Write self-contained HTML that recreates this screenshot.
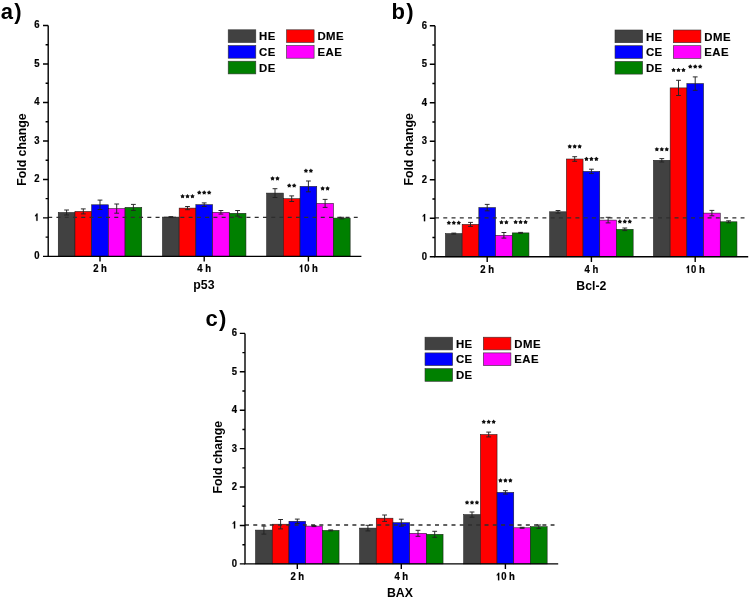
<!DOCTYPE html>
<html><head><meta charset="utf-8"><style>
html,body{margin:0;padding:0;background:#fff;}
body{width:749px;height:599px;overflow:hidden;}
svg{display:block;will-change:transform;filter:blur(0.3px);}
text{font-family:"Liberation Sans",sans-serif;font-weight:bold;fill:#000;}
.tl{font-size:9.5px;stroke:#000;stroke-width:0.2px;}
.ti{font-size:12.3px;}
.lg{font-size:11.4px;letter-spacing:0.5px;stroke:#000;stroke-width:0.15px;}
.pl{font-size:22px;letter-spacing:1.2px;}
</style></head><body>
<svg width="749" height="599" viewBox="0 0 749 599">
<rect width="749" height="599" fill="#fff"/>
<rect x="58.25" y="212.5" width="16.7" height="43.9" fill="#414141" stroke="#1a1a1a" stroke-width="0.55"/>
<rect x="74.95" y="211.4" width="16.7" height="45" fill="#ff0000" stroke="#1a1a1a" stroke-width="0.55"/>
<rect x="91.65" y="204.8" width="16.7" height="51.6" fill="#0000ff" stroke="#1a1a1a" stroke-width="0.55"/>
<rect x="108.35" y="208.6" width="16.7" height="47.8" fill="#ff00ff" stroke="#1a1a1a" stroke-width="0.55"/>
<rect x="125.05" y="207.4" width="16.7" height="49" fill="#008000" stroke="#1a1a1a" stroke-width="0.55"/>
<rect x="162.45" y="217.1" width="16.7" height="39.3" fill="#414141" stroke="#1a1a1a" stroke-width="0.55"/>
<rect x="179.15" y="208.1" width="16.7" height="48.3" fill="#ff0000" stroke="#1a1a1a" stroke-width="0.55"/>
<rect x="195.85" y="204.7" width="16.7" height="51.7" fill="#0000ff" stroke="#1a1a1a" stroke-width="0.55"/>
<rect x="212.55" y="212.3" width="16.7" height="44.1" fill="#ff00ff" stroke="#1a1a1a" stroke-width="0.55"/>
<rect x="229.25" y="213.3" width="16.7" height="43.1" fill="#008000" stroke="#1a1a1a" stroke-width="0.55"/>
<rect x="266.65" y="193.1" width="16.7" height="63.3" fill="#414141" stroke="#1a1a1a" stroke-width="0.55"/>
<rect x="283.35" y="198.7" width="16.7" height="57.7" fill="#ff0000" stroke="#1a1a1a" stroke-width="0.55"/>
<rect x="300.05" y="186.4" width="16.7" height="70" fill="#0000ff" stroke="#1a1a1a" stroke-width="0.55"/>
<rect x="316.75" y="203.4" width="16.7" height="53" fill="#ff00ff" stroke="#1a1a1a" stroke-width="0.55"/>
<rect x="333.45" y="218.1" width="16.7" height="38.3" fill="#008000" stroke="#1a1a1a" stroke-width="0.55"/>
<line x1="48.2" y1="217.42" x2="357.7" y2="217.42" stroke="#2e2e2e" stroke-width="1.3" stroke-dasharray="4.0 4.26"/>
<path d="M66.6 210V215M64.2 210h4.8M64.2 215h4.8" stroke="#222" stroke-width="0.95" fill="none"/>
<path d="M83.3 208.9V213.9M80.9 208.9h4.8M80.9 213.9h4.8" stroke="#222" stroke-width="0.95" fill="none"/>
<path d="M100 200.1V209.5M97.6 200.1h4.8M97.6 209.5h4.8" stroke="#222" stroke-width="0.95" fill="none"/>
<path d="M116.7 204V213.2M114.3 204h4.8M114.3 213.2h4.8" stroke="#222" stroke-width="0.95" fill="none"/>
<path d="M133.4 204.4V210.4M131 204.4h4.8M131 210.4h4.8" stroke="#222" stroke-width="0.95" fill="none"/>
<path d="M170.8 216.6V217.6M168.4 216.6h4.8M168.4 217.6h4.8" stroke="#222" stroke-width="0.95" fill="none"/>
<path d="M187.5 206.5V209.7M185.1 206.5h4.8M185.1 209.7h4.8" stroke="#222" stroke-width="0.95" fill="none"/>
<path d="M204.2 202.9V206.5M201.8 202.9h4.8M201.8 206.5h4.8" stroke="#222" stroke-width="0.95" fill="none"/>
<path d="M220.9 210.5V214.1M218.5 210.5h4.8M218.5 214.1h4.8" stroke="#222" stroke-width="0.95" fill="none"/>
<path d="M237.6 210.5V216.1M235.2 210.5h4.8M235.2 216.1h4.8" stroke="#222" stroke-width="0.95" fill="none"/>
<path d="M275 188.7V197.5M272.6 188.7h4.8M272.6 197.5h4.8" stroke="#222" stroke-width="0.95" fill="none"/>
<path d="M291.7 195.9V201.5M289.3 195.9h4.8M289.3 201.5h4.8" stroke="#222" stroke-width="0.95" fill="none"/>
<path d="M308.4 181V191.8M306 181h4.8M306 191.8h4.8" stroke="#222" stroke-width="0.95" fill="none"/>
<path d="M325.1 199.4V207.4M322.7 199.4h4.8M322.7 207.4h4.8" stroke="#222" stroke-width="0.95" fill="none"/>
<path d="M341.8 217.3V218.9M339.4 217.3h4.8M339.4 218.9h4.8" stroke="#222" stroke-width="0.95" fill="none"/>
<g fill="#111"><polygon points="182.55,193.95 183.37,195.17 184.78,195.57 183.88,196.73 183.93,198.2 182.55,197.7 181.17,198.2 181.22,196.73 180.32,195.57 181.73,195.17"/><polygon points="187.5,193.95 188.32,195.17 189.73,195.57 188.83,196.73 188.88,198.2 187.5,197.7 186.12,198.2 186.17,196.73 185.27,195.57 186.68,195.17"/><polygon points="192.45,193.95 193.27,195.17 194.68,195.57 193.78,196.73 193.83,198.2 192.45,197.7 191.07,198.2 191.12,196.73 190.22,195.57 191.63,195.17"/><polygon points="199.25,190.35 200.07,191.57 201.48,191.97 200.58,193.13 200.63,194.6 199.25,194.1 197.87,194.6 197.92,193.13 197.02,191.97 198.43,191.57"/><polygon points="204.2,190.35 205.02,191.57 206.43,191.97 205.53,193.13 205.58,194.6 204.2,194.1 202.82,194.6 202.87,193.13 201.97,191.97 203.38,191.57"/><polygon points="209.15,190.35 209.97,191.57 211.38,191.97 210.48,193.13 210.53,194.6 209.15,194.1 207.77,194.6 207.82,193.13 206.92,191.97 208.33,191.57"/><polygon points="272.52,176.15 273.35,177.37 274.76,177.77 273.86,178.93 273.91,180.4 272.52,179.9 271.14,180.4 271.19,178.93 270.29,177.77 271.7,177.37"/><polygon points="277.48,176.15 278.3,177.37 279.71,177.77 278.81,178.93 278.86,180.4 277.48,179.9 276.09,180.4 276.14,178.93 275.24,177.77 276.65,177.37"/><polygon points="289.22,183.35 290.05,184.57 291.46,184.97 290.56,186.13 290.61,187.6 289.22,187.1 287.84,187.6 287.89,186.13 286.99,184.97 288.4,184.57"/><polygon points="294.18,183.35 295,184.57 296.41,184.97 295.51,186.13 295.56,187.6 294.18,187.1 292.79,187.6 292.84,186.13 291.94,184.97 293.35,184.57"/><polygon points="305.92,168.45 306.75,169.67 308.16,170.07 307.26,171.23 307.31,172.7 305.92,172.2 304.54,172.7 304.59,171.23 303.69,170.07 305.1,169.67"/><polygon points="310.88,168.45 311.7,169.67 313.11,170.07 312.21,171.23 312.26,172.7 310.88,172.2 309.49,172.7 309.54,171.23 308.64,170.07 310.05,169.67"/><polygon points="322.62,186.15 323.45,187.37 324.86,187.77 323.96,188.93 324.01,190.4 322.62,189.9 321.24,190.4 321.29,188.93 320.39,187.77 321.8,187.37"/><polygon points="327.57,186.15 328.4,187.37 329.81,187.77 328.91,188.93 328.96,190.4 327.57,189.9 326.19,190.4 326.24,188.93 325.34,187.77 326.75,187.37"/></g>
<path d="M48.2 25.5V256.4H361.4" stroke="#000" stroke-width="1.4" fill="none"/>
<path d="M43 256.4H48.2M45.6 237.16H48.2M43 217.92H48.2M45.6 198.67H48.2M43 179.43H48.2M45.6 160.19H48.2M43 140.95H48.2M45.6 121.71H48.2M43 102.47H48.2M45.6 83.22H48.2M43 63.98H48.2M45.6 44.74H48.2M43 25.5H48.2M100 256.4V261.6M204.2 256.4V261.6M308.4 256.4V261.6" stroke="#000" stroke-width="1.4" fill="none"/>
<text transform="translate(39.5 259.3) scale(1 1.06)" class="tl" text-anchor="end">0</text>
<g transform="translate(39.5 220.82) scale(1 1.06)"><path transform="translate(-5.28 0) scale(0.004639 -0.004639)" d="M720 0H450V1030L190 880V1110Q420 1240 510 1466H720Z" fill="#000" stroke="#000" stroke-width="43.12"/></g>
<text transform="translate(39.5 182.33) scale(1 1.06)" class="tl" text-anchor="end">2</text>
<text transform="translate(39.5 143.85) scale(1 1.06)" class="tl" text-anchor="end">3</text>
<text transform="translate(39.5 105.37) scale(1 1.06)" class="tl" text-anchor="end">4</text>
<text transform="translate(39.5 66.88) scale(1 1.06)" class="tl" text-anchor="end">5</text>
<text transform="translate(39.5 28.4) scale(1 1.06)" class="tl" text-anchor="end">6</text>
<text transform="translate(100 272.1) scale(1 1.1)" class="tl" text-anchor="middle">2 h</text>
<text transform="translate(204.2 272.1) scale(1 1.1)" class="tl" text-anchor="middle">4 h</text>
<g transform="translate(308.4 272.1) scale(1 1.1)"><path transform="translate(-9.5 0) scale(0.004639 -0.004639)" d="M720 0H450V1030L190 880V1110Q420 1240 510 1466H720Z" fill="#000" stroke="#000" stroke-width="43.12"/><text x="-4.22" class="tl">0 h</text></g>
<text x="203.9" y="289.4" class="ti" text-anchor="middle">p53</text>
<text transform="translate(25.6 149.6) rotate(-90)" class="ti" text-anchor="middle">Fold change</text>
<text x="0.8" y="18.6" class="pl">a)</text>
<rect x="228.2" y="29.8" width="27.6" height="12.7" fill="#414141" stroke="#333" stroke-width="0.6"/>
<text x="259.1" y="40.3" class="lg">HE</text>
<rect x="286.5" y="29.8" width="27.6" height="12.7" fill="#ff0000" stroke="#333" stroke-width="0.6"/>
<text x="317.4" y="40.3" class="lg">DME</text>
<rect x="228.2" y="45.5" width="27.6" height="12.7" fill="#0000ff" stroke="#333" stroke-width="0.6"/>
<text x="259.1" y="56" class="lg">CE</text>
<rect x="286.5" y="45.5" width="27.6" height="12.7" fill="#ff00ff" stroke="#333" stroke-width="0.6"/>
<text x="317.4" y="56" class="lg">EAE</text>
<rect x="228.2" y="61.2" width="27.6" height="12.7" fill="#008000" stroke="#333" stroke-width="0.6"/>
<text x="259.1" y="71.7" class="lg">DE</text>
<rect x="445.45" y="233.6" width="16.7" height="23.2" fill="#414141" stroke="#1a1a1a" stroke-width="0.55"/>
<rect x="462.15" y="224.4" width="16.7" height="32.4" fill="#ff0000" stroke="#1a1a1a" stroke-width="0.55"/>
<rect x="478.85" y="207.6" width="16.7" height="49.2" fill="#0000ff" stroke="#1a1a1a" stroke-width="0.55"/>
<rect x="495.55" y="235.3" width="16.7" height="21.5" fill="#ff00ff" stroke="#1a1a1a" stroke-width="0.55"/>
<rect x="512.25" y="232.9" width="16.7" height="23.9" fill="#008000" stroke="#1a1a1a" stroke-width="0.55"/>
<rect x="549.65" y="211.8" width="16.7" height="45" fill="#414141" stroke="#1a1a1a" stroke-width="0.55"/>
<rect x="566.35" y="159" width="16.7" height="97.8" fill="#ff0000" stroke="#1a1a1a" stroke-width="0.55"/>
<rect x="583.05" y="171.4" width="16.7" height="85.4" fill="#0000ff" stroke="#1a1a1a" stroke-width="0.55"/>
<rect x="599.75" y="220.1" width="16.7" height="36.7" fill="#ff00ff" stroke="#1a1a1a" stroke-width="0.55"/>
<rect x="616.45" y="229.3" width="16.7" height="27.5" fill="#008000" stroke="#1a1a1a" stroke-width="0.55"/>
<rect x="653.45" y="160.3" width="16.7" height="96.5" fill="#414141" stroke="#1a1a1a" stroke-width="0.55"/>
<rect x="670.15" y="87.9" width="16.7" height="168.9" fill="#ff0000" stroke="#1a1a1a" stroke-width="0.55"/>
<rect x="686.85" y="83.6" width="16.7" height="173.2" fill="#0000ff" stroke="#1a1a1a" stroke-width="0.55"/>
<rect x="703.55" y="213.1" width="16.7" height="43.7" fill="#ff00ff" stroke="#1a1a1a" stroke-width="0.55"/>
<rect x="720.25" y="221.8" width="16.7" height="35" fill="#008000" stroke="#1a1a1a" stroke-width="0.55"/>
<line x1="435" y1="217.78" x2="744.5" y2="217.78" stroke="#2e2e2e" stroke-width="1.3" stroke-dasharray="4.0 4.26"/>
<path d="M453.8 233.1V234.1M451.4 233.1h4.8M451.4 234.1h4.8" stroke="#222" stroke-width="0.95" fill="none"/>
<path d="M470.5 222.4V226.4M468.1 222.4h4.8M468.1 226.4h4.8" stroke="#222" stroke-width="0.95" fill="none"/>
<path d="M487.2 204.4V210.8M484.8 204.4h4.8M484.8 210.8h4.8" stroke="#222" stroke-width="0.95" fill="none"/>
<path d="M503.9 232.5V238.1M501.5 232.5h4.8M501.5 238.1h4.8" stroke="#222" stroke-width="0.95" fill="none"/>
<path d="M520.6 232.4V233.4M518.2 232.4h4.8M518.2 233.4h4.8" stroke="#222" stroke-width="0.95" fill="none"/>
<path d="M558 210.5V213.1M555.6 210.5h4.8M555.6 213.1h4.8" stroke="#222" stroke-width="0.95" fill="none"/>
<path d="M574.7 156.7V161.3M572.3 156.7h4.8M572.3 161.3h4.8" stroke="#222" stroke-width="0.95" fill="none"/>
<path d="M591.4 169.2V173.6M589 169.2h4.8M589 173.6h4.8" stroke="#222" stroke-width="0.95" fill="none"/>
<path d="M608.1 217.3V222.9M605.7 217.3h4.8M605.7 222.9h4.8" stroke="#222" stroke-width="0.95" fill="none"/>
<path d="M624.8 228V230.6M622.4 228h4.8M622.4 230.6h4.8" stroke="#222" stroke-width="0.95" fill="none"/>
<path d="M661.8 158.6V162M659.4 158.6h4.8M659.4 162h4.8" stroke="#222" stroke-width="0.95" fill="none"/>
<path d="M678.5 80.3V95.5M676.1 80.3h4.8M676.1 95.5h4.8" stroke="#222" stroke-width="0.95" fill="none"/>
<path d="M695.2 76.9V90.3M692.8 76.9h4.8M692.8 90.3h4.8" stroke="#222" stroke-width="0.95" fill="none"/>
<path d="M711.9 210.4V215.8M709.5 210.4h4.8M709.5 215.8h4.8" stroke="#222" stroke-width="0.95" fill="none"/>
<path d="M728.6 220.8V222.8M726.2 220.8h4.8M726.2 222.8h4.8" stroke="#222" stroke-width="0.95" fill="none"/>
<g fill="#111"><polygon points="448.85,220.55 449.67,221.77 451.08,222.17 450.18,223.33 450.23,224.8 448.85,224.3 447.47,224.8 447.52,223.33 446.62,222.17 448.03,221.77"/><polygon points="453.8,220.55 454.62,221.77 456.03,222.17 455.13,223.33 455.18,224.8 453.8,224.3 452.42,224.8 452.47,223.33 451.57,222.17 452.98,221.77"/><polygon points="458.75,220.55 459.57,221.77 460.98,222.17 460.08,223.33 460.13,224.8 458.75,224.3 457.37,224.8 457.42,223.33 456.52,222.17 457.93,221.77"/><polygon points="501.42,219.95 502.25,221.17 503.66,221.57 502.76,222.73 502.81,224.2 501.42,223.7 500.04,224.2 500.09,222.73 499.19,221.57 500.6,221.17"/><polygon points="506.38,219.95 507.2,221.17 508.61,221.57 507.71,222.73 507.76,224.2 506.38,223.7 504.99,224.2 505.04,222.73 504.14,221.57 505.55,221.17"/><polygon points="515.65,219.85 516.47,221.07 517.88,221.47 516.98,222.63 517.03,224.1 515.65,223.6 514.27,224.1 514.32,222.63 513.42,221.47 514.83,221.07"/><polygon points="520.6,219.85 521.42,221.07 522.83,221.47 521.93,222.63 521.98,224.1 520.6,223.6 519.22,224.1 519.27,222.63 518.37,221.47 519.78,221.07"/><polygon points="525.55,219.85 526.37,221.07 527.78,221.47 526.88,222.63 526.93,224.1 525.55,223.6 524.17,224.1 524.22,222.63 523.32,221.47 524.73,221.07"/><polygon points="569.75,144.15 570.57,145.37 571.98,145.77 571.08,146.93 571.13,148.4 569.75,147.9 568.37,148.4 568.42,146.93 567.52,145.77 568.93,145.37"/><polygon points="574.7,144.15 575.52,145.37 576.93,145.77 576.03,146.93 576.08,148.4 574.7,147.9 573.32,148.4 573.37,146.93 572.47,145.77 573.88,145.37"/><polygon points="579.65,144.15 580.47,145.37 581.88,145.77 580.98,146.93 581.03,148.4 579.65,147.9 578.27,148.4 578.32,146.93 577.42,145.77 578.83,145.37"/><polygon points="586.45,156.65 587.27,157.87 588.68,158.27 587.78,159.43 587.83,160.9 586.45,160.4 585.07,160.9 585.12,159.43 584.22,158.27 585.63,157.87"/><polygon points="591.4,156.65 592.22,157.87 593.63,158.27 592.73,159.43 592.78,160.9 591.4,160.4 590.02,160.9 590.07,159.43 589.17,158.27 590.58,157.87"/><polygon points="596.35,156.65 597.17,157.87 598.58,158.27 597.68,159.43 597.73,160.9 596.35,160.4 594.97,160.9 595.02,159.43 594.12,158.27 595.53,157.87"/><polygon points="619.85,219.35 620.67,220.57 622.08,220.97 621.18,222.13 621.23,223.6 619.85,223.1 618.47,223.6 618.52,222.13 617.62,220.97 619.03,220.57"/><polygon points="624.8,219.35 625.62,220.57 627.03,220.97 626.13,222.13 626.18,223.6 624.8,223.1 623.42,223.6 623.47,222.13 622.57,220.97 623.98,220.57"/><polygon points="629.75,219.35 630.57,220.57 631.98,220.97 631.08,222.13 631.13,223.6 629.75,223.1 628.37,223.6 628.42,222.13 627.52,220.97 628.93,220.57"/><polygon points="656.85,146.95 657.67,148.17 659.08,148.57 658.18,149.73 658.23,151.2 656.85,150.7 655.47,151.2 655.52,149.73 654.62,148.57 656.03,148.17"/><polygon points="661.8,146.95 662.62,148.17 664.03,148.57 663.13,149.73 663.18,151.2 661.8,150.7 660.42,151.2 660.47,149.73 659.57,148.57 660.98,148.17"/><polygon points="666.75,146.95 667.57,148.17 668.98,148.57 668.08,149.73 668.13,151.2 666.75,150.7 665.37,151.2 665.42,149.73 664.52,148.57 665.93,148.17"/><polygon points="673.55,67.75 674.37,68.97 675.78,69.37 674.88,70.53 674.93,72 673.55,71.5 672.17,72 672.22,70.53 671.32,69.37 672.73,68.97"/><polygon points="678.5,67.75 679.32,68.97 680.73,69.37 679.83,70.53 679.88,72 678.5,71.5 677.12,72 677.17,70.53 676.27,69.37 677.68,68.97"/><polygon points="683.45,67.75 684.27,68.97 685.68,69.37 684.78,70.53 684.83,72 683.45,71.5 682.07,72 682.12,70.53 681.22,69.37 682.63,68.97"/><polygon points="690.25,64.35 691.07,65.57 692.48,65.97 691.58,67.13 691.63,68.6 690.25,68.1 688.87,68.6 688.92,67.13 688.02,65.97 689.43,65.57"/><polygon points="695.2,64.35 696.02,65.57 697.43,65.97 696.53,67.13 696.58,68.6 695.2,68.1 693.82,68.6 693.87,67.13 692.97,65.97 694.38,65.57"/><polygon points="700.15,64.35 700.97,65.57 702.38,65.97 701.48,67.13 701.53,68.6 700.15,68.1 698.77,68.6 698.82,67.13 697.92,65.97 699.33,65.57"/></g>
<path d="M435 25.7V256.8H748.2" stroke="#000" stroke-width="1.4" fill="none"/>
<path d="M429.8 256.8H435M432.4 237.54H435M429.8 218.28H435M432.4 199.03H435M429.8 179.77H435M432.4 160.51H435M429.8 141.25H435M432.4 121.99H435M429.8 102.73H435M432.4 83.47H435M429.8 64.22H435M432.4 44.96H435M429.8 25.7H435M487.2 256.8V262M591.4 256.8V262M695.2 256.8V262" stroke="#000" stroke-width="1.4" fill="none"/>
<text transform="translate(427.1 259.7) scale(1 1.06)" class="tl" text-anchor="end">0</text>
<g transform="translate(427.1 221.18) scale(1 1.06)"><path transform="translate(-5.28 0) scale(0.004639 -0.004639)" d="M720 0H450V1030L190 880V1110Q420 1240 510 1466H720Z" fill="#000" stroke="#000" stroke-width="43.12"/></g>
<text transform="translate(427.1 182.67) scale(1 1.06)" class="tl" text-anchor="end">2</text>
<text transform="translate(427.1 144.15) scale(1 1.06)" class="tl" text-anchor="end">3</text>
<text transform="translate(427.1 105.63) scale(1 1.06)" class="tl" text-anchor="end">4</text>
<text transform="translate(427.1 67.12) scale(1 1.06)" class="tl" text-anchor="end">5</text>
<text transform="translate(427.1 28.6) scale(1 1.06)" class="tl" text-anchor="end">6</text>
<text transform="translate(487.2 273) scale(1 1.1)" class="tl" text-anchor="middle">2 h</text>
<text transform="translate(591.4 273) scale(1 1.1)" class="tl" text-anchor="middle">4 h</text>
<g transform="translate(695.2 273) scale(1 1.1)"><path transform="translate(-9.5 0) scale(0.004639 -0.004639)" d="M720 0H450V1030L190 880V1110Q420 1240 510 1466H720Z" fill="#000" stroke="#000" stroke-width="43.12"/><text x="-4.22" class="tl">0 h</text></g>
<text x="591.4" y="289.8" class="ti" text-anchor="middle">Bcl-2</text>
<text transform="translate(412.6 149.4) rotate(-90)" class="ti" text-anchor="middle">Fold change</text>
<text x="391.5" y="18.5" class="pl">b)</text>
<rect x="615" y="30" width="27.6" height="12.7" fill="#414141" stroke="#333" stroke-width="0.6"/>
<text x="645.9" y="40.5" class="lg">HE</text>
<rect x="673.3" y="30" width="27.6" height="12.7" fill="#ff0000" stroke="#333" stroke-width="0.6"/>
<text x="704.2" y="40.5" class="lg">DME</text>
<rect x="615" y="45.7" width="27.6" height="12.7" fill="#0000ff" stroke="#333" stroke-width="0.6"/>
<text x="645.9" y="56.2" class="lg">CE</text>
<rect x="673.3" y="45.7" width="27.6" height="12.7" fill="#ff00ff" stroke="#333" stroke-width="0.6"/>
<text x="704.2" y="56.2" class="lg">EAE</text>
<rect x="615" y="61.4" width="27.6" height="12.7" fill="#008000" stroke="#333" stroke-width="0.6"/>
<text x="645.9" y="71.9" class="lg">DE</text>
<rect x="255.55" y="530.1" width="16.7" height="33.8" fill="#414141" stroke="#1a1a1a" stroke-width="0.55"/>
<rect x="272.25" y="524.2" width="16.7" height="39.7" fill="#ff0000" stroke="#1a1a1a" stroke-width="0.55"/>
<rect x="288.95" y="521.3" width="16.7" height="42.6" fill="#0000ff" stroke="#1a1a1a" stroke-width="0.55"/>
<rect x="305.65" y="526.1" width="16.7" height="37.8" fill="#ff00ff" stroke="#1a1a1a" stroke-width="0.55"/>
<rect x="322.35" y="530.4" width="16.7" height="33.5" fill="#008000" stroke="#1a1a1a" stroke-width="0.55"/>
<rect x="359.55" y="528.1" width="16.7" height="35.8" fill="#414141" stroke="#1a1a1a" stroke-width="0.55"/>
<rect x="376.25" y="518.2" width="16.7" height="45.7" fill="#ff0000" stroke="#1a1a1a" stroke-width="0.55"/>
<rect x="392.95" y="522.7" width="16.7" height="41.2" fill="#0000ff" stroke="#1a1a1a" stroke-width="0.55"/>
<rect x="409.65" y="533.3" width="16.7" height="30.6" fill="#ff00ff" stroke="#1a1a1a" stroke-width="0.55"/>
<rect x="426.35" y="534.3" width="16.7" height="29.6" fill="#008000" stroke="#1a1a1a" stroke-width="0.55"/>
<rect x="463.65" y="514.6" width="16.7" height="49.3" fill="#414141" stroke="#1a1a1a" stroke-width="0.55"/>
<rect x="480.35" y="434.5" width="16.7" height="129.4" fill="#ff0000" stroke="#1a1a1a" stroke-width="0.55"/>
<rect x="497.05" y="492.4" width="16.7" height="71.5" fill="#0000ff" stroke="#1a1a1a" stroke-width="0.55"/>
<rect x="513.75" y="527.8" width="16.7" height="36.1" fill="#ff00ff" stroke="#1a1a1a" stroke-width="0.55"/>
<rect x="530.45" y="526.7" width="16.7" height="37.2" fill="#008000" stroke="#1a1a1a" stroke-width="0.55"/>
<line x1="245" y1="524.98" x2="554.5" y2="524.98" stroke="#2e2e2e" stroke-width="1.3" stroke-dasharray="4.0 4.26"/>
<path d="M263.9 526.1V534.1M261.5 526.1h4.8M261.5 534.1h4.8" stroke="#222" stroke-width="0.95" fill="none"/>
<path d="M280.6 519.5V528.9M278.2 519.5h4.8M278.2 528.9h4.8" stroke="#222" stroke-width="0.95" fill="none"/>
<path d="M297.3 519.1V523.5M294.9 519.1h4.8M294.9 523.5h4.8" stroke="#222" stroke-width="0.95" fill="none"/>
<path d="M314 525.6V526.6M311.6 525.6h4.8M311.6 526.6h4.8" stroke="#222" stroke-width="0.95" fill="none"/>
<path d="M330.7 529.9V530.9M328.3 529.9h4.8M328.3 530.9h4.8" stroke="#222" stroke-width="0.95" fill="none"/>
<path d="M367.9 525.3V530.9M365.5 525.3h4.8M365.5 530.9h4.8" stroke="#222" stroke-width="0.95" fill="none"/>
<path d="M384.6 515V521.4M382.2 515h4.8M382.2 521.4h4.8" stroke="#222" stroke-width="0.95" fill="none"/>
<path d="M401.3 519.2V526.2M398.9 519.2h4.8M398.9 526.2h4.8" stroke="#222" stroke-width="0.95" fill="none"/>
<path d="M418 530.3V536.3M415.6 530.3h4.8M415.6 536.3h4.8" stroke="#222" stroke-width="0.95" fill="none"/>
<path d="M434.7 531.3V537.3M432.3 531.3h4.8M432.3 537.3h4.8" stroke="#222" stroke-width="0.95" fill="none"/>
<path d="M472 512V517.2M469.6 512h4.8M469.6 517.2h4.8" stroke="#222" stroke-width="0.95" fill="none"/>
<path d="M488.7 432.1V436.9M486.3 432.1h4.8M486.3 436.9h4.8" stroke="#222" stroke-width="0.95" fill="none"/>
<path d="M505.4 490.7V494.1M503 490.7h4.8M503 494.1h4.8" stroke="#222" stroke-width="0.95" fill="none"/>
<path d="M522.1 527.3V528.3M519.7 527.3h4.8M519.7 528.3h4.8" stroke="#222" stroke-width="0.95" fill="none"/>
<path d="M538.8 525V528.4M536.4 525h4.8M536.4 528.4h4.8" stroke="#222" stroke-width="0.95" fill="none"/>
<g fill="#111"><polygon points="467.05,500.25 467.87,501.47 469.28,501.87 468.38,503.03 468.43,504.5 467.05,504 465.67,504.5 465.72,503.03 464.82,501.87 466.23,501.47"/><polygon points="472,500.25 472.82,501.47 474.23,501.87 473.33,503.03 473.38,504.5 472,504 470.62,504.5 470.67,503.03 469.77,501.87 471.18,501.47"/><polygon points="476.95,500.25 477.77,501.47 479.18,501.87 478.28,503.03 478.33,504.5 476.95,504 475.57,504.5 475.62,503.03 474.72,501.87 476.13,501.47"/><polygon points="483.75,419.55 484.57,420.77 485.98,421.17 485.08,422.33 485.13,423.8 483.75,423.3 482.37,423.8 482.42,422.33 481.52,421.17 482.93,420.77"/><polygon points="488.7,419.55 489.52,420.77 490.93,421.17 490.03,422.33 490.08,423.8 488.7,423.3 487.32,423.8 487.37,422.33 486.47,421.17 487.88,420.77"/><polygon points="493.65,419.55 494.47,420.77 495.88,421.17 494.98,422.33 495.03,423.8 493.65,423.3 492.27,423.8 492.32,422.33 491.42,421.17 492.83,420.77"/><polygon points="500.45,478.15 501.27,479.37 502.68,479.77 501.78,480.93 501.83,482.4 500.45,481.9 499.07,482.4 499.12,480.93 498.22,479.77 499.63,479.37"/><polygon points="505.4,478.15 506.22,479.37 507.63,479.77 506.73,480.93 506.78,482.4 505.4,481.9 504.02,482.4 504.07,480.93 503.17,479.77 504.58,479.37"/><polygon points="510.35,478.15 511.17,479.37 512.58,479.77 511.68,480.93 511.73,482.4 510.35,481.9 508.97,482.4 509.02,480.93 508.12,479.77 509.53,479.37"/></g>
<path d="M245 333.4V563.9H558.2" stroke="#000" stroke-width="1.4" fill="none"/>
<path d="M239.8 563.9H245M242.4 544.69H245M239.8 525.48H245M242.4 506.27H245M239.8 487.07H245M242.4 467.86H245M239.8 448.65H245M242.4 429.44H245M239.8 410.23H245M242.4 391.02H245M239.8 371.82H245M242.4 352.61H245M239.8 333.4H245M297.3 563.9V569.1M401.3 563.9V569.1M505.4 563.9V569.1" stroke="#000" stroke-width="1.4" fill="none"/>
<text transform="translate(237.1 566.8) scale(1 1.06)" class="tl" text-anchor="end">0</text>
<g transform="translate(237.1 528.38) scale(1 1.06)"><path transform="translate(-5.28 0) scale(0.004639 -0.004639)" d="M720 0H450V1030L190 880V1110Q420 1240 510 1466H720Z" fill="#000" stroke="#000" stroke-width="43.12"/></g>
<text transform="translate(237.1 489.97) scale(1 1.06)" class="tl" text-anchor="end">2</text>
<text transform="translate(237.1 451.55) scale(1 1.06)" class="tl" text-anchor="end">3</text>
<text transform="translate(237.1 413.13) scale(1 1.06)" class="tl" text-anchor="end">4</text>
<text transform="translate(237.1 374.72) scale(1 1.06)" class="tl" text-anchor="end">5</text>
<text transform="translate(237.1 336.3) scale(1 1.06)" class="tl" text-anchor="end">6</text>
<text transform="translate(297.3 580.3) scale(1 1.1)" class="tl" text-anchor="middle">2 h</text>
<text transform="translate(401.3 580.3) scale(1 1.1)" class="tl" text-anchor="middle">4 h</text>
<g transform="translate(505.4 580.3) scale(1 1.1)"><path transform="translate(-9.5 0) scale(0.004639 -0.004639)" d="M720 0H450V1030L190 880V1110Q420 1240 510 1466H720Z" fill="#000" stroke="#000" stroke-width="43.12"/><text x="-4.22" class="tl">0 h</text></g>
<text x="399.9" y="596.9" class="ti" text-anchor="middle">BAX</text>
<text transform="translate(222 457.2) rotate(-90)" class="ti" text-anchor="middle">Fold change</text>
<text x="205.5" y="326.3" class="pl">c)</text>
<rect x="425" y="337.2" width="27.6" height="12.7" fill="#414141" stroke="#333" stroke-width="0.6"/>
<text x="455.9" y="347.7" class="lg">HE</text>
<rect x="483.3" y="337.2" width="27.6" height="12.7" fill="#ff0000" stroke="#333" stroke-width="0.6"/>
<text x="514.2" y="347.7" class="lg">DME</text>
<rect x="425" y="352.9" width="27.6" height="12.7" fill="#0000ff" stroke="#333" stroke-width="0.6"/>
<text x="455.9" y="363.4" class="lg">CE</text>
<rect x="483.3" y="352.9" width="27.6" height="12.7" fill="#ff00ff" stroke="#333" stroke-width="0.6"/>
<text x="514.2" y="363.4" class="lg">EAE</text>
<rect x="425" y="368.6" width="27.6" height="12.7" fill="#008000" stroke="#333" stroke-width="0.6"/>
<text x="455.9" y="379.1" class="lg">DE</text>
</svg>
</body></html>
